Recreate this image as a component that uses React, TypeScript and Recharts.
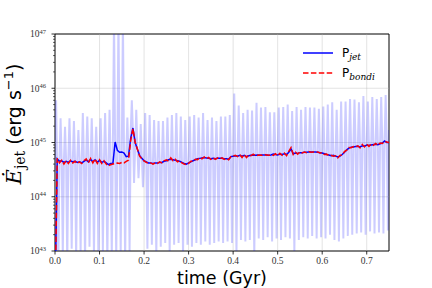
import React from 'react';
import { LineChart, Line, XAxis, YAxis, ReferenceLine, ReferenceArea, Legend } from 'recharts';

// Sampling step (Gyr) of the smoothed jet / bondi power series
const SMOOTH_STEP = 0.005;
// Spacing (Gyr) of the oscillation groups in the raw (instantaneous) jet power
const RAW_GROUP = 0.01;

const pJet: number[] = [
  1e42, 5.0e44, 4.5e44, 4.6e44, 4.3e44, 4.5e44, 4.3e44, 4.6e44, 4.4e44, 4.5e44,
  4.3e44, 4.4e44, 4.2e44, 4.5e44, 4.8e44, 4.4e44, 4.9e44, 4.4e44, 4.8e44, 4.3e44,
  4.7e44, 4.3e44, 4.5e44, 4.2e44, 3.9e44, 4.1e44, 4.1e44, 1.02e45, 7.2e44, 6.6e44,
  6.7e44, 6.4e44, 5.5e44, 5.6e44, 1.2e45, 1.85e45, 1.0e45, 7.5e44, 5.8e44, 5.1e44,
  4.6e44, 4.4e44, 4.2e44, 4.2e44, 4.1e44, 4.2e44, 4.2e44, 4.3e44, 4.3e44, 4.5e44,
  4.6e44, 4.8e44, 4.9e44, 4.8e44, 4.7e44, 4.6e44, 4.5e44, 4.3e44, 4.1e44, 4.0e44,
  4.2e44, 4.4e44, 4.6e44, 4.8e44, 5.0e44, 5.1e44, 5.2e44, 5.3e44, 5.2e44, 5.1e44,
  5.0e44, 5.1e44, 5.0e44, 5.1e44, 5.1e44, 5.1e44, 5.0e44, 5.0e44, 4.9e44, 5.5e44,
  5.6e44, 5.7e44, 5.6e44, 5.8e44, 5.6e44, 5.8e44, 5.5e44, 5.7e44, 5.8e44, 5.9e44,
  5.8e44, 5.9e44, 5.8e44, 5.9e44, 5.9e44, 5.9e44, 5.8e44, 5.9e44, 6.1e44, 6.0e44,
  5.9e44, 6.1e44, 6.0e44, 6.2e44, 6.0e44, 6.6e44, 7.6e44, 6.2e44, 6.4e44, 6.3e44,
  6.5e44, 6.5e44, 6.6e44, 6.6e44, 6.7e44, 6.7e44, 6.7e44, 6.7e44, 6.6e44, 6.5e44,
  6.4e44, 6.2e44, 6.0e44, 5.9e44, 5.7e44, 5.8e44, 5.6e44, 5.4e44, 5.6e44, 6.0e44,
  6.6e44, 7.3e44, 7.9e44, 8.2e44, 8.3e44, 8.4e44, 8.5e44, 8.3e44, 8.7e44, 8.6e44,
  9.0e44, 8.8e44, 9.0e44, 9.2e44, 9.3e44, 9.1e44, 9.5e44, 9.8e44, 1.07e45, 1.0e45,
  1.0e45,
];

const pBondi: number[] = [
  1e42, 5.1e44, 4.2e44, 4.7e44, 4.0e44, 4.6e44, 4.1e44, 4.7e44, 4.2e44, 4.5e44,
  4.1e44, 4.4e44, 4.1e44, 4.6e44, 5.0e44, 4.2e44, 5.1e44, 4.2e44, 5.0e44, 4.1e44,
  4.8e44, 4.1e44, 4.6e44, 4.0e44, 3.7e44, 3.9e44, 4.0e44, 4.1e44, 4.2e44, 4.1e44,
  4.3e44, 4.2e44, 4.5e44, 4.7e44, 1.1e45, 1.8e45, 1.0e45, 7.6e44, 5.6e44, 5.0e44,
  4.6e44, 4.3e44, 4.1e44, 4.2e44, 4.0e44, 4.2e44, 4.1e44, 4.4e44, 4.2e44, 4.6e44,
  4.8e44, 4.5e44, 5.2e44, 4.6e44, 4.9e44, 4.4e44, 4.6e44, 4.2e44, 4.0e44, 3.9e44,
  4.1e44, 4.5e44, 4.5e44, 4.9e44, 4.8e44, 5.3e44, 5.0e44, 5.4e44, 5.0e44, 5.3e44,
  4.9e44, 5.2e44, 4.9e44, 5.2e44, 5.0e44, 5.2e44, 4.9e44, 5.1e44, 4.8e44, 5.5e44,
  5.6e44, 5.8e44, 5.5e44, 6.0e44, 5.3e44, 6.0e44, 5.3e44, 5.9e44, 5.7e44, 6.1e44,
  5.7e44, 5.8e44, 5.9e44, 5.8e44, 6.0e44, 5.9e44, 5.8e44, 6.0e44, 5.8e44, 6.2e44,
  5.7e44, 6.3e44, 5.8e44, 6.4e44, 5.7e44, 6.9e44, 8.1e44, 6.0e44, 6.6e44, 6.1e44,
  6.7e44, 6.4e44, 6.7e44, 6.5e44, 6.8e44, 6.6e44, 6.7e44, 6.6e44, 6.7e44, 6.4e44,
  6.5e44, 6.0e44, 6.1e44, 5.7e44, 5.8e44, 5.6e44, 5.7e44, 5.2e44, 5.8e44, 5.9e44,
  6.8e44, 7.2e44, 8.1e44, 8.0e44, 8.4e44, 8.3e44, 8.7e44, 8.0e44, 9.2e44, 8.3e44,
  9.3e44, 8.5e44, 9.4e44, 8.9e44, 9.6e44, 8.9e44, 9.8e44, 9.6e44, 1.05e45, 1.02e45,
  1.0e45,
];

// Raw instantaneous jet power: per group a band level, an upward spike and a downward spike
const rawBand: number[] = [
  3.0e44, 4.8e44, 4.6e44, 5.0e44, 4.7e44, 5.0e44, 4.6e44, 5.3e44, 4.9e44, 5.2e44,
  4.7e44, 4.9e44, 4.3e44, 9.0e44, 7.5e44, 7.0e44, 5.8e44, 1.6e45, 8.0e44, 5.5e44,
  4.8e44, 4.5e44, 4.5e44, 4.6e44, 4.7e44, 5.0e44, 5.1e44, 4.9e44, 4.4e44, 4.2e44,
  4.6e44, 5.0e44, 5.3e44, 5.4e44, 5.2e44, 5.2e44, 5.1e44, 5.3e44, 5.1e44, 5.0e44,
  5.8e44, 6.0e44, 5.9e44, 5.8e44, 6.1e44, 6.0e44, 6.0e44, 6.1e44, 6.0e44, 6.2e44,
  6.1e44, 6.3e44, 6.4e44, 6.5e44, 6.7e44, 6.8e44, 6.9e44, 7.0e44, 6.9e44, 6.8e44,
  6.5e44, 6.2e44, 6.0e44, 5.8e44, 6.1e44, 7.0e44, 8.3e44, 8.6e44, 8.8e44, 9.0e44,
  9.3e44, 9.4e44, 9.6e44, 1.0e45, 1.05e45,
];

const rawPeak: number[] = [
  6.0e45, 2.8e45, 1.95e45, 2.8e45, 2.5e45, 1.7e45, 3.5e45, 3.0e45, 2.8e45, 1.95e45,
  2.8e45, 3.5e45, 4.0e45, 2e47, 2e47, 2e47, 2.9e45, 6.0e45, 4.0e45, 2.2e45,
  3.5e45, 3.2e45, 2.6e45, 2.5e45, 2.5e45, 2.9e45, 3.2e45, 3.5e45, 3.0e45, 2.6e45,
  3.0e45, 3.2e45, 2.9e45, 3.5e45, 2.6e45, 2.9e45, 2.5e45, 3.0e45, 3.0e45, 3.2e45,
  8.0e45, 4.8e45, 3.5e45, 4.0e45, 3.9e45, 5.4e45, 4.4e45, 4.5e45, 3.6e45, 3.6e45,
  4.4e45, 4.5e45, 5.0e45, 3.8e45, 4.5e45, 4.0e45, 4.5e45, 4.4e45, 4.4e45, 4.2e45,
  4.6e45, 5.0e45, 5.5e45, 4.0e45, 5.7e45, 5.7e45, 6.3e45, 6.2e45, 5.5e45, 7.2e45,
  5.7e45, 6.9e45, 6.3e45, 6.9e45, 7.5e45,
];

const rawTrough: number[] = [
  5e42, 8e42, 6e42, 1.1e43, 7e42, 9e42, 6e42, 1.2e43, 8e42, 7e42,
  1.0e43, 6e42, 8e42, 7e42, 9e42, 6e42, 1.0e43, 1.8e44, 2.2e44, 1.5e44,
  1.1e43, 1.3e43, 8e42, 1.2e43, 1.4e43, 9e42, 1.3e43, 1.4e43, 8e42, 1.3e43,
  1.2e43, 1.4e43, 1.3e43, 1.5e43, 1.3e43, 1.4e43, 1.5e43, 1.4e43, 1.5e43, 1.4e43,
  9e42, 1.6e43, 1.5e43, 1.6e43, 8e42, 1.7e43, 1.6e43, 1.8e43, 1.5e43, 1.7e43,
  1.6e43, 1.8e43, 1.7e43, 9e42, 1.6e43, 1.8e43, 1.7e43, 1.9e43, 1.7e43, 1.8e43,
  1.7e43, 2.0e43, 1.6e43, 1.5e43, 1.7e43, 1.9e43, 2.0e43, 2.1e43, 2.2e43, 2.0e43,
  2.3e43, 2.1e43, 2.2e43, 2.1e43, 2.4e43,
];
const rawLast = 1.7e45;

const xTicks = [0, 0.1, 0.2, 0.3, 0.4, 0.5, 0.6, 0.7];
const yMajor = [1e43, 1e44, 1e45, 1e46, 1e47];
const yMinorFactors = [2, 3, 4, 5, 6, 7, 8, 9];
const legendNames = ['P_jet', 'P_bondi'];

const smoothData = pJet.map((v, i) => ({ t: +(i * SMOOTH_STEP).toFixed(4), jet: v, bondi: pBondi[i] }));
const rawData: { t: number; v: number }[] = [];
rawBand.forEach((b, i) => {
  const t0 = i * RAW_GROUP;
  rawData.push({ t: t0, v: b });
  rawData.push({ t: t0 + RAW_GROUP * 0.25, v: rawPeak[i] });
  rawData.push({ t: t0 + RAW_GROUP * 0.5, v: b });
  rawData.push({ t: t0 + RAW_GROUP * 0.75, v: rawTrough[i] });
});
rawData.push({ t: 0.75, v: rawLast });

const yTicks: number[] = [];
yMajor.forEach((m, k) => {
  yTicks.push(m);
  if (k < yMajor.length - 1) yMinorFactors.forEach((f) => yTicks.push(f * m));
});

const XTick = (props: any) => {
  const { x, y, payload } = props;
  return (
    <g>
      <line x1={x} x2={x} y1={y} y2={y + 3.5} stroke="#000" strokeWidth={0.8} />
      <text x={x} y={y + 12.5} textAnchor="middle" fontFamily="Liberation Serif" fontSize={9.5} fill="#333">
        {Number(payload.value).toFixed(1)}
      </text>
    </g>
  );
};

const YTick = (props: any) => {
  const { x, y, payload } = props;
  const lg = Math.log10(payload.value);
  const e = Math.round(lg);
  const major = Math.abs(lg - e) < 1e-6;
  return (
    <g>
      <line x1={x - (major ? 3.5 : 2)} x2={x} y1={y} y2={y} stroke="#000" strokeWidth={major ? 0.8 : 0.6} />
      {major && (
        <text x={x - 9} y={y + 3.4} textAnchor="end" fontFamily="Liberation Serif" fontSize={9.5} fill="#333">
          10
          <tspan fontSize={6.5} dy={-3.8}>{e}</tspan>
        </text>
      )}
    </g>
  );
};

const renderLegend = (props: any) => {
  const items = (props.payload || [])
    .filter((p: any) => legendNames.indexOf(p.value) >= 0)
    .sort((a: any, b: any) => legendNames.indexOf(a.value) - legendNames.indexOf(b.value));
  return (
    <svg width={100} height={50} style={{ display: 'block' }}>
      {items.map((p: any, i: number) => (
        <g key={i}>
          <line
            x1={8}
            x2={38}
            y1={13 + i * 20}
            y2={13 + i * 20}
            stroke={p.color}
            strokeWidth={1.5}
            strokeDasharray={p.payload && p.payload.strokeDasharray}
          />
          <text x={47} y={17 + i * 20} fontFamily="DejaVu Sans" fontSize={12} fill="#000">
            P
            <tspan fontFamily="DejaVu Serif" fontStyle="italic" fontSize={9} dy={2.5}>
              {String(p.value).split('_')[1]}
            </tspan>
          </text>
        </g>
      ))}
    </svg>
  );
};

const YLabel = () => (
  <text transform="translate(21,124) rotate(-90)" textAnchor="middle" fill="#000">
    <tspan fontFamily="DejaVu Serif" fontStyle="italic" fontSize={21}>Ė</tspan>
    <tspan fontFamily="DejaVu Serif" fontSize={14} dy={4}>jet</tspan>
    <tspan fontFamily="DejaVu Sans" fontSize={19} dy={-4}>{' (erg s'}</tspan>
    <tspan fontFamily="DejaVu Sans" fontSize={13} dy={-8}>−1</tspan>
    <tspan fontFamily="DejaVu Sans" fontSize={19} dy={8}>)</tspan>
  </text>
);

const XLabel = () => (
  <text x={222} y={284} textAnchor="middle" fontFamily="DejaVu Sans" fontSize={17.5} fill="#000">
    time (Gyr)
  </text>
);

export default function App() {
  return (
    <div style={{ position: 'absolute', left: 0, top: 0 }}>
      <LineChart width={432} height={288} margin={{ top: 34, right: 43, bottom: 0, left: 0 }}>
        <XAxis
          type="number"
          dataKey="t"
          domain={[0, 0.75]}
          allowDataOverflow
          ticks={xTicks}
          interval={0}
          tick={<XTick />}
          tickLine={false}
          axisLine={false}
          tickSize={0}
          tickMargin={0}
          height={37}
          label={{ content: () => <XLabel /> }}
        />
        <YAxis
          type="number"
          scale="log"
          domain={[1e43, 1e47]}
          allowDataOverflow
          ticks={yTicks}
          interval={0}
          tick={<YTick />}
          tickLine={false}
          axisLine={false}
          tickSize={0}
          tickMargin={0}
          width={55}
          label={{ content: () => <YLabel /> }}
        />
        {xTicks.slice(1).map((v) => (
          <ReferenceLine key={'gx' + v} x={v} stroke="#b0b0b0" strokeOpacity={0.45} strokeWidth={0.8} />
        ))}
        {yMajor.slice(1, -1).map((v) => (
          <ReferenceLine key={'gy' + v} y={v} stroke="#b0b0b0" strokeOpacity={0.45} strokeWidth={0.8} />
        ))}
        <Line
          data={rawData}
          dataKey="v"
          name="raw"
          stroke="#0000ff"
          strokeOpacity={0.2}
          strokeWidth={2}
          strokeLinejoin="miter"
          dot={false}
          legendType="none"
          isAnimationActive={false}
        />
        <Line
          data={smoothData}
          dataKey="jet"
          name="P_jet"
          stroke="#0000ff"
          strokeWidth={1.5}
          dot={false}
          isAnimationActive={false}
        />
        <Line
          data={smoothData}
          dataKey="bondi"
          name="P_bondi"
          stroke="#ff0000"
          strokeWidth={1.5}
          strokeDasharray="5.5 2.4"
          dot={false}
          isAnimationActive={false}
        />
        <ReferenceArea x1={0} x2={0.75} y1={1e43} y2={1e47} fill="none" stroke="#000" strokeWidth={1} />
        <Legend
          layout="horizontal"
          verticalAlign="middle"
          align="center"
          content={renderLegend}
          wrapperStyle={{ position: 'absolute', left: 295, top: 40, width: 100, height: 50 }}
        />
      </LineChart>
    </div>
  );
}
